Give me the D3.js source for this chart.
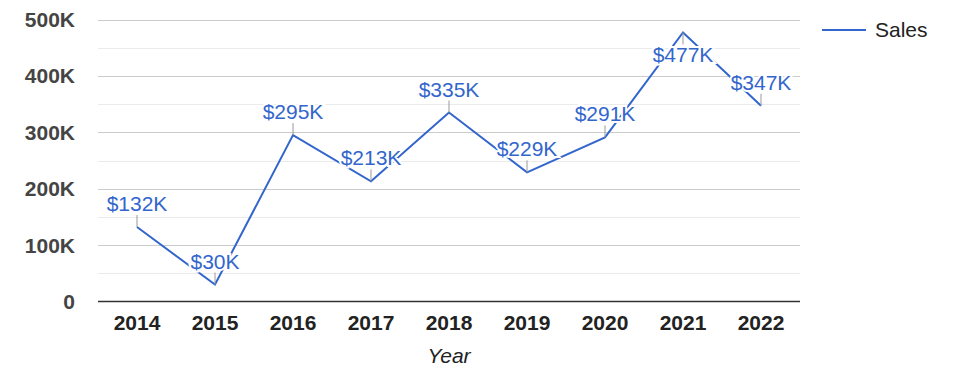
<!DOCTYPE html>
<html><head><meta charset="utf-8">
<script src="https://cdn.jsdelivr.net/npm/d3@7"></script>
<style>body{margin:0;background:#fff}svg{display:block}</style>
</head><body>
<svg id="c" width="975" height="378"></svg>
<script>
const years = ["2014","2015","2016","2017","2018","2019","2020","2021","2022"];
const sales = [132000, 30000, 295000, 213000, 335000, 229000, 291000, 477000, 347000];
const labels = ["$132K","$30K","$295K","$213K","$335K","$229K","$291K","$477K","$347K"];
const yTicks = [0,100000,200000,300000,400000,500000];
const yTickLabels = ["0","100K","200K","300K","400K","500K"];
const minorTicks = [50000,150000,250000,350000,450000];

const svg = d3.select("#c");
const font = "'Liberation Sans', Arial, sans-serif";
const L = 98, R = 800, T = 19.5, B = 301.5;
const x = d3.scalePoint().domain(years).range([L, R]).padding(0.5);
const y = d3.scaleLinear().domain([0, 500000]).range([B, T]);
const color = "#3366cc";

svg.append("g").selectAll("line").data(minorTicks).join("line")
  .attr("x1", L).attr("x2", R).attr("y1", d => Math.round(y(d))+0.5).attr("y2", d => Math.round(y(d))+0.5)
  .attr("stroke", "#ebebeb");
svg.append("g").selectAll("line").data(yTicks.slice(1)).join("line")
  .attr("x1", L).attr("x2", R).attr("y1", d => Math.round(y(d))+0.5).attr("y2", d => Math.round(y(d))+0.5)
  .attr("stroke", "#cccccc");
svg.append("line").attr("x1", L).attr("x2", R).attr("y1", B).attr("y2", B)
  .attr("stroke", "#333").attr("stroke-width", 1.5);

svg.append("g").selectAll("text").data(yTicks).join("text")
  .attr("x", 75).attr("y", d => y(d)).attr("dy", "0.36em")
  .attr("text-anchor", "end").attr("font-family", font).attr("font-size", 21)
  .attr("font-weight", "bold").attr("fill", "#444")
  .text((d, i) => yTickLabels[i]);

svg.append("g").selectAll("text").data(years).join("text")
  .attr("x", d => x(d)).attr("y", 330)
  .attr("text-anchor", "middle").attr("font-family", font).attr("font-size", 21)
  .attr("font-weight", "bold").attr("fill", "#222").text(d => d);

svg.append("text").attr("x", (L + R) / 2).attr("y", 363)
  .attr("text-anchor", "middle").attr("font-family", font).attr("font-size", 21)
  .attr("font-style", "italic").attr("fill", "#222").text("Year");

const pts = years.map((yr, i) => {
  const py = y(sales[i]);
  const below = py - 32 < T; // label would not fit above the point inside the plot
  return {yr, v: sales[i], lab: labels[i], below};
});
svg.append("path").datum(pts)
  .attr("d", d3.line().x(d => x(d.yr)).y(d => y(d.v)))
  .attr("fill", "none").attr("stroke", color).attr("stroke-width", 2);

const ann = svg.append("g").selectAll("g").data(pts).join("g");
ann.append("line")
  .attr("x1", d => x(d.yr)).attr("x2", d => x(d.yr))
  .attr("y1", d => y(d.v)).attr("y2", d => y(d.v) + (d.below ? 12 : -12))
  .attr("stroke", "#999").attr("stroke-width", 1);
ann.append("text")
  .attr("x", d => x(d.yr)).attr("y", d => y(d.v) + (d.below ? 30 : -16))
  .attr("text-anchor", "middle").attr("font-family", font).attr("font-size", 21)
  .attr("fill", color).attr("stroke", "#fff").attr("stroke-width", 4)
  .attr("paint-order", "stroke").text(d => d.lab);

svg.append("line").attr("x1", 822).attr("x2", 866).attr("y1", 30).attr("y2", 30)
  .attr("stroke", color).attr("stroke-width", 2);
svg.append("text").attr("x", 875).attr("y", 37).attr("font-family", font)
  .attr("font-size", 21).attr("fill", "#222").text("Sales");
</script>
</body></html>
